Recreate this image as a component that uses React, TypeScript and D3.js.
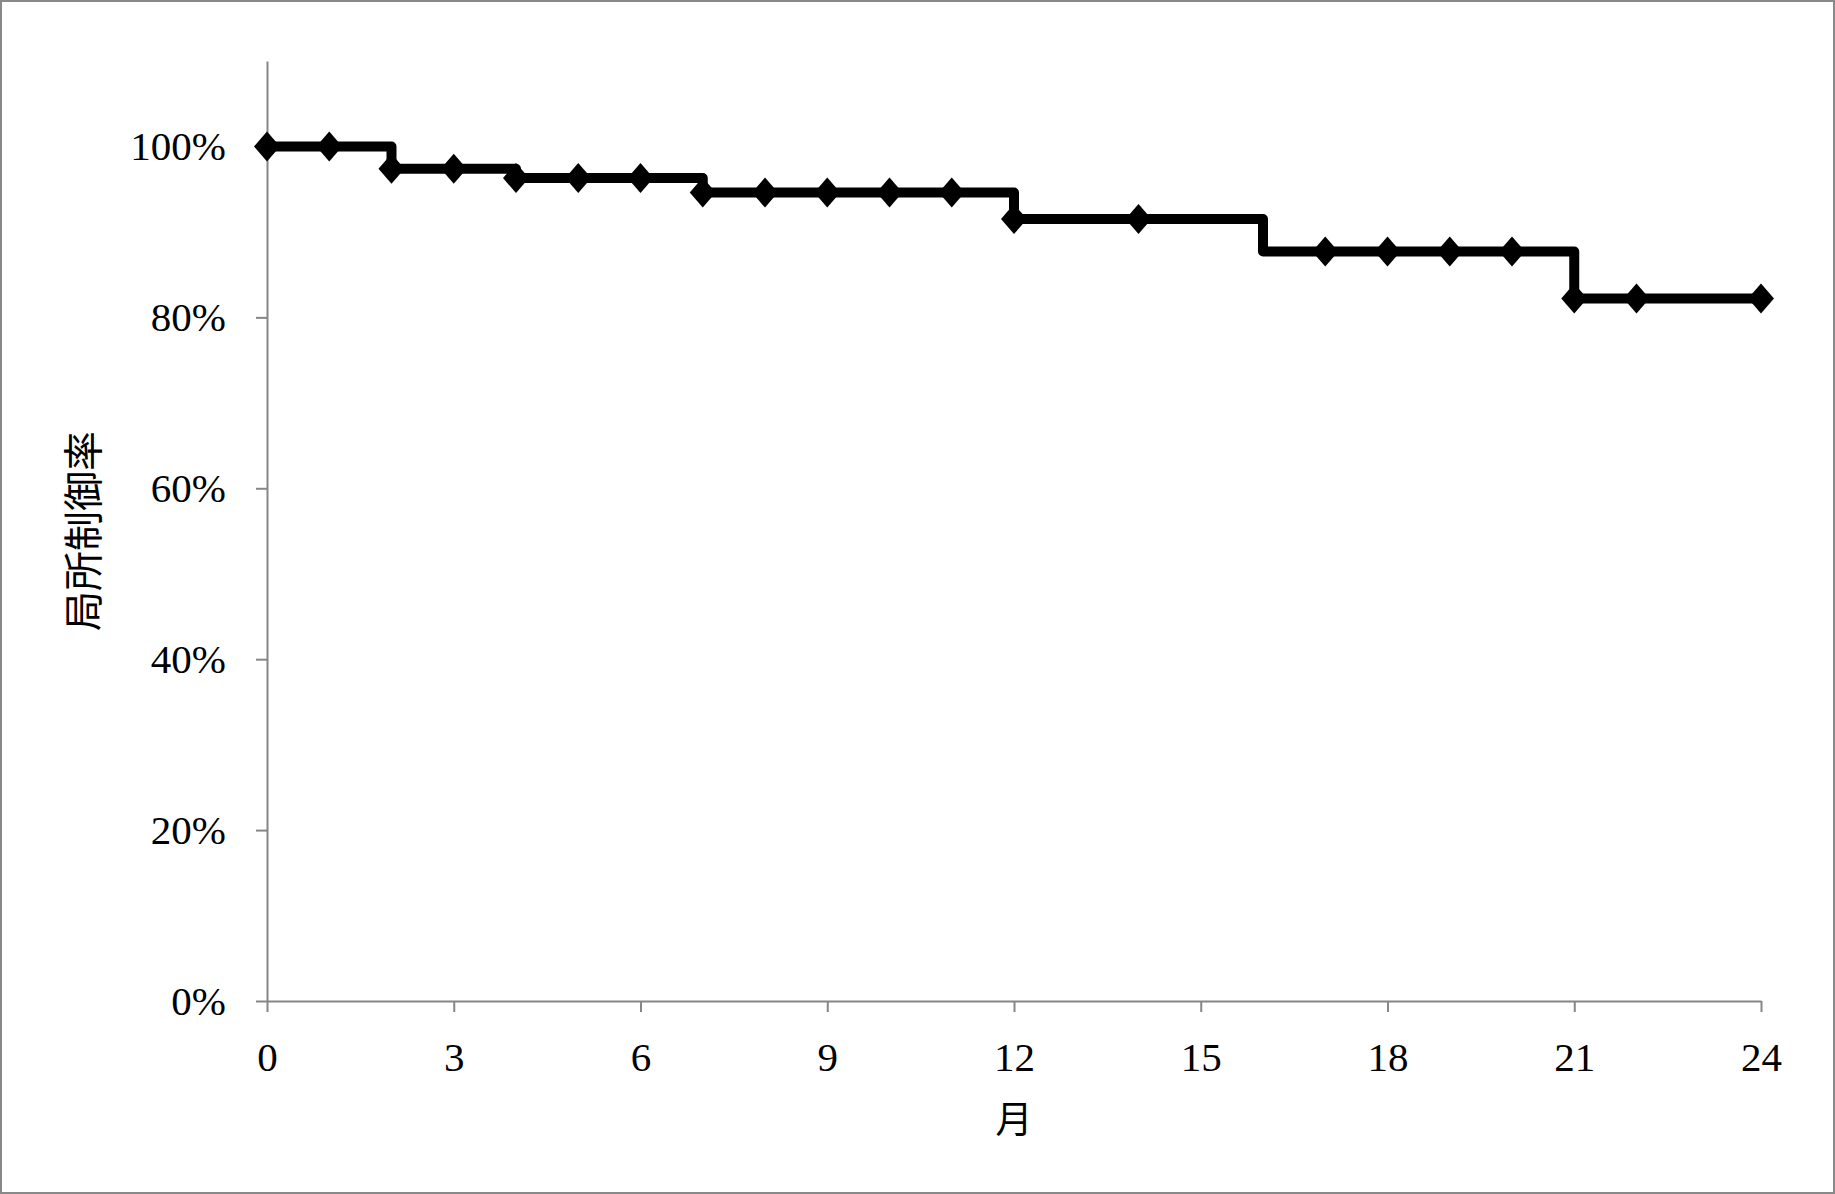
import * as d3 from 'd3';
import * as React from 'react';

const { useRef, useEffect } = React;

const width = 1835;
const height = 1194;
const margin = { top: 61, right: 74, bottom: 193, left: 267 };

// step points of the curve (month 16 is only a step, no marker)
const months = [0, 1, 2, 3, 4, 5, 6, 7, 8, 9, 10, 11, 12, 14, 16, 17, 18, 19, 20, 21, 22, 24];
const rates = [
  1, 1, 0.974, 0.974, 0.963, 0.963, 0.963, 0.946, 0.946, 0.946, 0.946, 0.946,
  0.915, 0.915, 0.877, 0.877, 0.877, 0.877, 0.877, 0.822, 0.822, 0.822,
];
const noMarker = [16];

const xTicks = [0, 3, 6, 9, 12, 15, 18, 21, 24];
const yTicks = [0, 0.2, 0.4, 0.6, 0.8, 1.0];

const yTitle = '局所制御率';
const xTitle = '月';

const axisColor = '#868686';
const numFont = '"Liberation Serif", "Times New Roman", serif';
const cjkFont = '"Noto Sans CJK JP", sans-serif';

export default () => {
  const rootRef = useRef<HTMLDivElement>(null);

  useEffect(() => {
    const rootEl = rootRef.current;
    if (!rootEl) {
      return;
    }
    d3.select(rootEl).selectAll('*').remove();

    const data = months.map((m, i) => ({ m, v: rates[i] }));

    const x = d3
      .scaleLinear()
      .domain([0, 24])
      .range([margin.left, width - margin.right]);

    const y = d3
      .scaleLinear()
      .domain([0, 1.1])
      .range([height - margin.bottom, margin.top]);

    const svg = d3
      .select(rootEl)
      .append('svg')
      .attr('width', width)
      .attr('height', height)
      .style('display', 'block');

    svg
      .append('rect')
      .attr('x', 1)
      .attr('y', 1)
      .attr('width', width - 2)
      .attr('height', height - 2)
      .attr('fill', '#fff')
      .attr('stroke', '#898989')
      .attr('stroke-width', 2);

    const xAxis = (g: d3.Selection<any, any, any, any>) =>
      g
        .attr('transform', `translate(0,${y(0)})`)
        .call(
          d3
            .axisBottom(x)
            .tickValues(xTicks)
            .tickSize(11)
            .tickSizeOuter(0)
            .tickPadding(30)
            .tickFormat(d3.format('d') as any),
        )
        .call(g => g.select('.domain').attr('stroke', axisColor).attr('stroke-width', 2))
        .call(g => g.selectAll('.tick line').attr('stroke', axisColor).attr('stroke-width', 2))
        .call(g =>
          g
            .selectAll('.tick text')
            .attr('fill', '#000')
            .attr('font-family', numFont)
            .attr('font-size', 41),
        );

    const yAxis = (g: d3.Selection<any, any, any, any>) =>
      g
        .attr('transform', `translate(${x(0)},0)`)
        .call(
          d3
            .axisLeft(y)
            .tickValues(yTicks)
            .tickSize(11)
            .tickSizeOuter(0)
            .tickPadding(30)
            .tickFormat(d3.format('.0%') as any),
        )
        .call(g => g.select('.domain').attr('stroke', axisColor).attr('stroke-width', 2))
        .call(g => g.selectAll('.tick line').attr('stroke', axisColor).attr('stroke-width', 2))
        .call(g =>
          g
            .selectAll('.tick text')
            .attr('fill', '#000')
            .attr('font-family', numFont)
            .attr('font-size', 41),
        );

    svg.append('g').call(yAxis);
    svg.append('g').call(xAxis);

    const line = d3
      .line<{ m: number; v: number }>()
      .x(d => x(d.m))
      .y(d => y(d.v))
      .curve(d3.curveStepAfter);

    svg
      .append('path')
      .datum(data)
      .attr('d', line)
      .attr('fill', 'none')
      .attr('stroke', '#000')
      .attr('stroke-width', 10)
      .attr('stroke-linejoin', 'round');

    const hw = 13;
    const hh = 15;
    svg
      .append('g')
      .selectAll('path')
      .data(data.filter(d => !noMarker.includes(d.m)))
      .join('path')
      .attr('transform', d => `translate(${x(d.m)},${y(d.v)})`)
      .attr('d', `M0,${-hh}L${hw},0L0,${hh}L${-hw},0Z`)
      .attr('fill', '#000');

    svg
      .append('text')
      .attr('transform', `translate(84,${(y(0) + y(1.1)) / 2}) rotate(-90)`)
      .attr('text-anchor', 'middle')
      .attr('dy', '0.35em')
      .attr('font-family', cjkFont)
      .attr('font-size', 40)
      .text(yTitle);

    svg
      .append('text')
      .attr('x', (x(0) + x(24)) / 2)
      .attr('y', 1120)
      .attr('text-anchor', 'middle')
      .attr('dy', '0.35em')
      .attr('font-family', cjkFont)
      .attr('font-size', 37)
      .text(xTitle);
  }, []);

  return <div ref={rootRef} style={{ position: 'absolute', left: 0, top: 0 }} />;
};
